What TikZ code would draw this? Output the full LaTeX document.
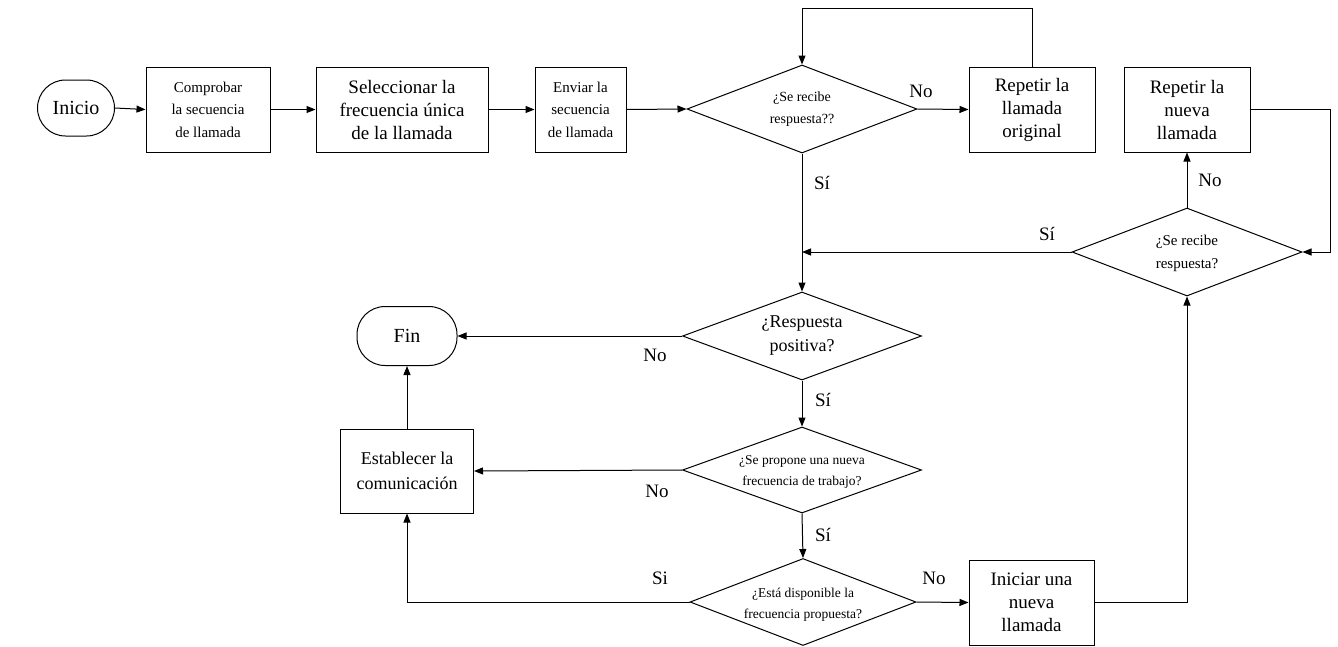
\documentclass[tikz,border=0pt]{standalone}
\usepackage{fontspec}
\setmainfont{Liberation Serif}
\usetikzlibrary{shapes.geometric,arrows.meta}
\begin{document}
\begin{tikzpicture}[x=1pt,y=-1pt,line width=1pt,
  box/.style={draw,rectangle,inner sep=0pt,align=center},
  term/.style={draw,rectangle,rounded corners=28pt,inner sep=0pt,font=\fontsize{20}{24}\selectfont},
  dia/.style={draw,diamond,inner sep=0pt},
  dtext/.style={inner sep=0pt,align=center},
  arr/.style={-{Triangle[length=9pt,width=7pt]}},
  lbl/.style={inner sep=0pt,font=\fontsize{19}{22}\selectfont},
  fs/.style={font=\fontsize{15}{22.5}\selectfont},
  fm/.style={font=\fontsize{19}{23}\selectfont},
  fd/.style={font=\fontsize{13.5}{21}\selectfont},
]
\useasboundingbox (0,0) rectangle (1338,646);
% terminals
\node[term,minimum width=77pt,minimum height=56pt] (inicio) at (76,108) {Inicio};
\node[term,minimum width=100pt,minimum height=59pt] (fin) at (407,336) {Fin};
% top row boxes
\node[box,fs,minimum width=124pt,minimum height=85pt] (comp) at (208,109.5) {Comprobar\\la secuencia\\de llamada};
\node[box,fm,minimum width=172pt,minimum height=85pt] (sel) at (402,109.5) {Seleccionar la\\frecuencia única\\de la llamada};
\node[box,fs,minimum width=91pt,minimum height=85pt] (env) at (580.5,109.5) {Enviar la\\secuencia\\de llamada};
\node[box,fm,minimum width=126pt,minimum height=85pt] (rep1) at (1032,109.5) {Repetir la\\llamada\\original};
\node[box,fm,minimum width=126pt,minimum height=85pt] (rep2) at (1187,109.5) {Repetir la\\nueva\\llamada};
% other boxes
\node[box,font=\fontsize{18}{25}\selectfont,minimum width=133pt,minimum height=84pt] (est) at (407,471) {Establecer la\\comunicación};
\node[box,fm,minimum width=125pt,minimum height=85pt] (ini) at (1031.5,602.5) {Iniciar una\\nueva\\llamada};
% diamonds
\node[dia,minimum width=230pt,minimum height=88pt] (d1) at (802,109) {};
\node[dtext,font=\fontsize{14}{22}\selectfont] at (d1) {¿Se recibe\\respuesta??};
\node[dia,minimum width=230pt,minimum height=88pt] (d3) at (1187,252) {};
\node[dtext,font=\fontsize{15}{23}\selectfont] at (1187,253) {¿Se recibe\\respuesta?};
\node[dia,minimum width=239pt,minimum height=88pt] (d2) at (802,336) {};
\node[dtext,font=\fontsize{18}{24}\selectfont] at (d2) {¿Respuesta\\positiva?};
\node[dia,minimum width=239pt,minimum height=86pt] (d4) at (802,470) {};
\node[dtext,fd] at (802,472) {¿Se propone una nueva\\frecuencia de trabajo?};
\node[dia,minimum width=226pt,minimum height=87pt] (d5) at (803,602) {};
\node[dtext,fd] at (803,605) {¿Está disponible la\\frecuencia propuesta?};
% coordinates
\coordinate (loopTR) at (1032,8);
\coordinate (j1) at (802,252);
\coordinate (r2c) at (1330,109.5);
% connectors
\draw[arr] (inicio.east) -- (comp.west);
\draw[arr] (comp.east) -- (sel.west);
\draw[arr] (sel.east) -- (env.west);
\draw[arr] (env.east) -- (d1.west);
\draw[arr] (d1.east) -- (rep1.west);
\draw[arr] (rep1.north) -- (loopTR) -| (d1.north);
\draw[arr] (d1.south) -- (d2.north);
\draw[arr] (d3.west) -- (j1);
\draw[arr] (d3.north) -- (rep2.south);
\draw[arr] (rep2.east) -- (r2c) |- (d3.east);
\draw[arr] (d2.west) -- (fin.east);
\draw[arr] (d2.south) -- (d4.north);
\draw[arr] (d4.west) -- (est.east);
\draw[arr] (d4.south) -- (d5.north);
\draw[arr] (d5.west) -| (est.south);
\draw[arr] (d5.east) -- (ini.west);
\draw[arr] (ini.east) -| (d3.south);
\draw[arr] (est.north) -- (fin.south);
% labels
\node[lbl] (lNo1) at (921,91) {No};
\node[lbl] (lSi1) at (822,183) {Sí};
\node[lbl] (lNo3) at (1210,180) {No};
\node[lbl] (lSi3) at (1047,234) {Sí};
\node[lbl] (lNo2) at (655,355) {No};
\node[lbl] (lSi2) at (823,400) {Sí};
\node[lbl] (lNo4) at (657,491) {No};
\node[lbl] (lSi4) at (823,535) {Sí};
\node[lbl] (lSi5) at (660,578) {Si};
\node[lbl] (lNo5) at (934,578) {No};
\end{tikzpicture}
\end{document}
